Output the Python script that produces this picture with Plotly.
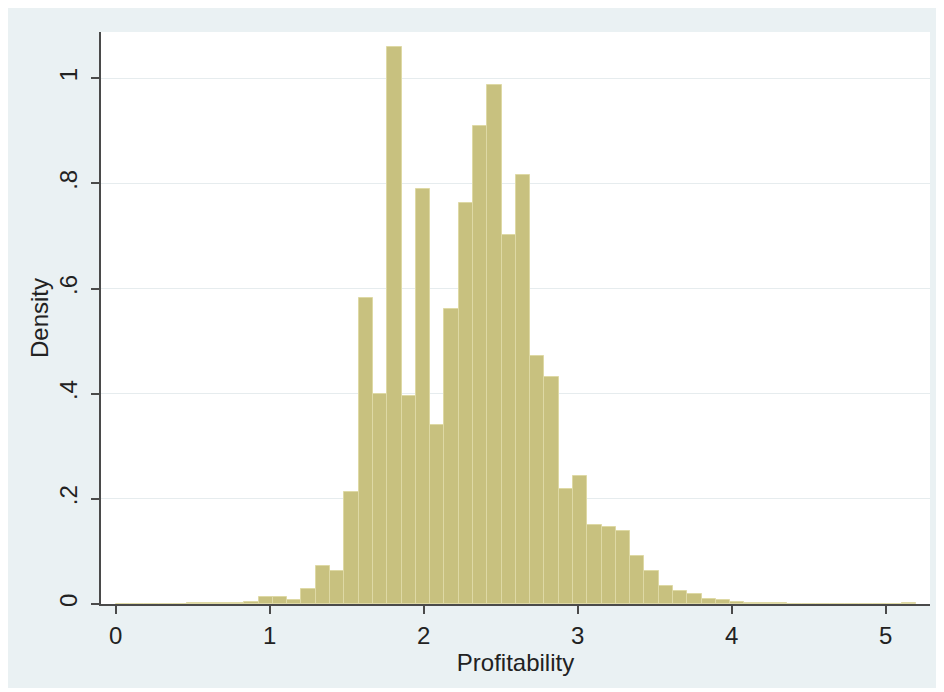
import numpy as np
import plotly.graph_objects as go

# Histogram bins (Profitability) and densities
bin_start = 0.0
bin_width = 0.0928
density = [
    0.0005, 0.0, 0.0, 0.0005, 0.0008, 0.001, 0.0012, 0.0015, 0.002, 0.003,
    0.013, 0.013, 0.008, 0.029, 0.073, 0.063, 0.213, 0.582, 0.399, 1.059,
    0.395, 0.789, 0.341, 0.561, 0.762, 0.909, 0.987, 0.702, 0.816, 0.471,
    0.431, 0.219, 0.244, 0.151, 0.146, 0.139, 0.0905, 0.063, 0.0335, 0.024,
    0.0196, 0.010, 0.0076, 0.003, 0.0015, 0.001, 0.001, 0.0008, 0.0006, 0.0005,
    0.0004, 0.0003, 0.0003, 0.0002, 0.0002, 0.001,
]
x_ticks = [0, 1, 2, 3, 4, 5]
x_tick_labels = ["0", "1", "2", "3", "4", "5"]
y_ticks = [0, 0.2, 0.4, 0.6, 0.8, 1.0]
y_tick_labels = ["0", ".2", ".4", ".6", ".8", "1"]

edges = bin_start + bin_width * np.arange(len(density))
centers = edges + bin_width / 2

FONT = "Liberation Sans, Arial, sans-serif"
BG = "#EAF1F3"
AXIS = "#4a4a4a"

fig = go.Figure()
fig.add_trace(go.Bar(
    x=centers, y=density, width=bin_width,
    marker=dict(color="rgb(200,193,127)", line=dict(color="rgb(222,217,165)", width=1)),
    hoverinfo="x+y",
))

fig.update_layout(
    width=930, height=680,
    margin=dict(l=93, r=8, t=24, b=84, pad=0),
    paper_bgcolor=BG, plot_bgcolor="white",
    showlegend=False, bargap=0,
    font=dict(family=FONT, size=24, color="#222222"),
    xaxis=dict(
        range=[-0.0955, 5.288], tickvals=x_ticks, ticktext=x_tick_labels,
        showgrid=False, zeroline=False,
        showline=True, linecolor=AXIS, linewidth=2,
        ticks="outside", ticklen=8, tickwidth=1.5, tickcolor=AXIS,
        tickfont=dict(size=24), ticklabelstandoff=1,
        title=dict(text="Profitability", font=dict(size=24), standoff=0),
    ),
    yaxis=dict(
        range=[0, 1.088], tickvals=y_ticks, ticktext=y_tick_labels,
        showgrid=True, gridcolor="#E6ECEE", gridwidth=1, zeroline=False,
        showline=True, linecolor=AXIS, linewidth=2,
        ticks="outside", ticklen=8, tickwidth=1.5, tickcolor=AXIS,
        tickangle=-90, tickfont=dict(size=24), ticklabelstandoff=4,
        title=dict(text="Density", font=dict(size=24), standoff=0),
    ),
)

fig.write_html("out.html")
